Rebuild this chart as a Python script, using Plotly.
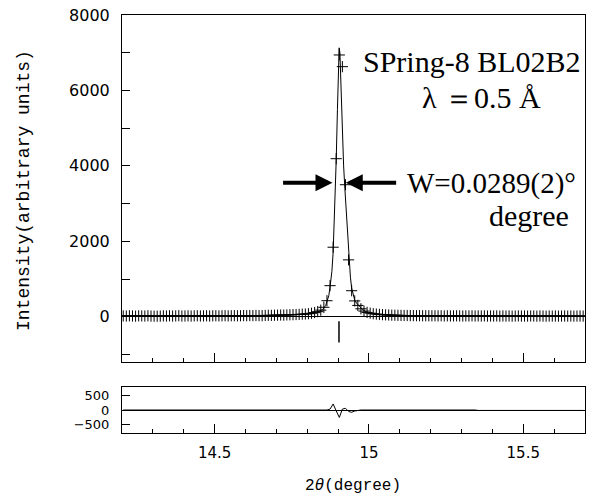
import plotly.graph_objects as go

# ---------------- data ----------------
obs_tth = [
    14.204, 14.214, 14.224, 14.234, 14.244, 14.254, 14.264, 14.274, 14.284, 14.294,
    14.304, 14.314, 14.324, 14.334, 14.344, 14.354, 14.364, 14.374, 14.384, 14.394,
    14.404, 14.414, 14.424, 14.434, 14.444, 14.454, 14.464, 14.474, 14.484, 14.494,
    14.504, 14.514, 14.524, 14.534, 14.544, 14.554, 14.564, 14.574, 14.584, 14.594,
    14.604, 14.614, 14.624, 14.634, 14.644, 14.654, 14.664, 14.674, 14.684, 14.694,
    14.704, 14.714, 14.724, 14.734, 14.744, 14.754, 14.764, 14.774, 14.784, 14.794,
    14.804, 14.814, 14.824, 14.834, 14.844, 14.854, 14.864, 14.874, 14.884, 14.894,
    14.904, 14.914, 14.924, 14.934, 14.944, 14.954, 14.964, 14.974, 14.984, 14.994,
    15.004, 15.014, 15.024, 15.034, 15.044, 15.054, 15.064, 15.074, 15.084, 15.094,
    15.104, 15.114, 15.124, 15.134, 15.144, 15.154, 15.164, 15.174, 15.184, 15.194,
    15.204, 15.214, 15.224, 15.234, 15.244, 15.254, 15.264, 15.274, 15.284, 15.294,
    15.304, 15.314, 15.324, 15.334, 15.344, 15.354, 15.364, 15.374, 15.384, 15.394,
    15.404, 15.414, 15.424, 15.434, 15.444, 15.454, 15.464, 15.474, 15.484, 15.494,
    15.504, 15.514, 15.524, 15.534, 15.544, 15.554, 15.564, 15.574, 15.584, 15.594,
    15.604, 15.614, 15.624, 15.634, 15.644, 15.654, 15.664, 15.674, 15.684, 15.694,
]
obs_int = [
    22, 18, 25, 20, 16, 24, 21, 19, 26, 17,
    15, 14, 16, 23, 20, 25, 18, 22, 27, 19,
    21, 24, 18, 23, 26, 20, 22, 25, 19, 24,
    27, 22, 25, 28, 23, 26, 29, 24, 27, 30,
    28, 31, 29, 33, 30, 28, 34, 38, 36, 40,
    42, 45, 43, 48, 52, 55, 58, 62, 68, 72,
    80, 92, 110, 135, 175, 250, 425, 824, 1843, 4190,
    6940, 6630, 3500, 1508, 690, 420, 300, 210, 150, 115,
    95, 80, 70, 62, 55, 50, 46, 42, 40, 37,
    35, 33, 32, 30, 29, 28, 27, 26, 27, 25,
    24, 26, 23, 25, 22, 24, 21, 23, 25, 22,
    20, 23, 21, 24, 19, 22, 20, 23, 18, 21,
    19, 22, 17, 20, 18, 21, 16, 19, 22, 18,
    20, 17, 21, 19, 16, 20, 18, 15, 19, 17,
    20, 16, 18, 21, 17, 19, 16, 18, 20, 17,
]
diff_int = [
    0, 0, 0, 0, 0, 0, 0, 0, 0, 0,
    0, -25, -25, -25, 0, 0, 0, 0, 0, 0,
    0, 0, 0, 0, 0, 0, 0, 0, 0, 0,
    0, 0, 0, 0, 0, 0, 0, 0, 0, 0,
    0, 0, 0, 0, 0, -15, -15, -20, -15, 0,
    0, 0, 0, -20, -20, -15, -20, 0, -15, -20,
    -20, -25, -20, -20, -15, -20, 0, 30, 210, -30,
    -258, 30, 60, -50, -80, -35, -5, 0, 0, 0,
    20, 25, 25, 20, 25, 20, 25, 0, 0, 0,
    0, 0, 0, 0, 0, 0, 0, 0, 0, 0,
    0, 0, 0, 0, 0, 0, 0, 0, 0, 0,
    0, 0, 0, 0, 0, -15, -15, -20, -15, -15,
    -20, -15, -15, -20, 0, -15, -20, -15, -15, -20,
    -15, -15, -20, -15, -15, -20, -15, -15, -20, -15,
    -15, -20, -15, -15, -20, -15, -15, -20, -15, -15,
]
calc_tth = [
    14.200, 14.500, 14.650, 14.750, 14.800, 14.830, 14.850, 14.860, 14.864, 14.870,
    14.874, 14.880, 14.884, 14.888, 14.894, 14.898, 14.901, 14.9035, 14.906, 14.910,
    14.914, 14.918, 14.922, 14.926, 14.930, 14.934, 14.940, 14.944, 14.950, 14.954,
    14.960, 14.970, 14.980, 14.990, 15.000, 15.030, 15.070, 15.150, 15.300, 15.700,
]
calc_int = [
    20, 22, 30, 50, 75, 115, 190, 300, 400, 560,
    790, 1200, 1700, 2500, 4150, 5500, 6500, 7130, 7000, 5900,
    4800, 4000, 3400, 2900, 2300, 1700, 1050, 760, 560, 440,
    360, 260, 185, 135, 105, 62, 42, 28, 22, 18,
]
bragg_pos = [14.903]

x_range = [14.2, 15.7]
y_range_top = [-1200, 8000]
y_range_bot = [-800, 800]
top_ticks = [0, 2000, 4000, 6000, 8000]
bot_ticks = [-500, 0, 500]
bot_ticklabels = ["\u2212500", "0", "500"]
x_ticks = [14.5, 15, 15.5]
x_ticklabels = ["14.5", "15", "15.5"]

# ---------------- layout geometry ----------------
W, H = 590, 495
ML, MR, MT, MB = 122, 5, 15, 62
PW, PH = W - ML - MR, H - MT - MB


def pxx(px):
    return (px - ML) / PW


def pxy(py):
    return (H - MB - py) / PH


BLACK = "black"
fig = go.Figure()

fig.add_trace(go.Scatter(x=calc_tth, y=calc_int, mode="lines",
                         line=dict(color=BLACK, width=1), xaxis="x", yaxis="y",
                         showlegend=False, hoverinfo="skip"))
fig.add_trace(go.Scatter(x=obs_tth, y=obs_int, mode="markers",
                         marker=dict(symbol="cross-thin", size=8,
                                     line=dict(color=BLACK, width=1), color=BLACK),
                         xaxis="x", yaxis="y", showlegend=False))
bx, by = [], []
for p in bragg_pos:
    bx += [p, p, None]
    by += [-120, -680, None]
fig.add_trace(go.Scatter(x=bx, y=by, mode="lines", line=dict(color=BLACK, width=1.5),
                         xaxis="x", yaxis="y", showlegend=False))
fig.add_trace(go.Scatter(x=obs_tth, y=diff_int, mode="lines",
                         line=dict(color=BLACK, width=1), xaxis="x2", yaxis="y2",
                         showlegend=False))

tickfont_top = dict(family="DejaVu Sans", size=16, color=BLACK)
tickfont_bot = dict(family="DejaVu Sans", size=13, color=BLACK)

common_x = dict(range=x_range, showgrid=False, zeroline=False, showline=True,
                mirror=True, linecolor=BLACK, linewidth=1, ticks="inside",
                tickvals=x_ticks, ticklen=9, tickcolor=BLACK, tickwidth=1,
                automargin=False,
                minor=dict(dtick=0.1, tick0=14.2, ticks="inside", ticklen=4,
                           tickcolor=BLACK, tickwidth=1))

fig.update_layout(
    width=W, height=H,
    margin=dict(l=ML, r=MR, t=MT, b=MB, autoexpand=False),
    paper_bgcolor="white", plot_bgcolor="white",
    xaxis=dict(**common_x, domain=[0, 1], anchor="y", showticklabels=False),
    yaxis=dict(range=y_range_top, domain=[pxy(362), 1], anchor="x",
               showgrid=False, zeroline=True, zerolinecolor=BLACK, zerolinewidth=1,
               showline=True, mirror=True, linecolor=BLACK, linewidth=1,
               ticks="inside", tickvals=top_ticks, ticklen=8, tickcolor=BLACK,
               minor=dict(dtick=1000, ticks="inside", ticklen=8, tickcolor=BLACK),
               tickfont=tickfont_top, ticklabelstandoff=8, automargin=False),
    xaxis2=dict(**common_x, domain=[0, 1], anchor="y2", ticktext=x_ticklabels,
                tickfont=dict(family="DejaVu Sans", size=15, color=BLACK),
                ticklabelstandoff=6),
    yaxis2=dict(range=y_range_bot, domain=[0, pxy(387)], anchor="x2",
                showgrid=False, zeroline=True, zerolinecolor=BLACK, zerolinewidth=1,
                showline=True, mirror=True, linecolor=BLACK, linewidth=1,
                ticks="inside", tickvals=bot_ticks, ticktext=bot_ticklabels,
                ticklen=8, tickcolor=BLACK, tickfont=tickfont_bot,
                ticklabelstandoff=9, automargin=False),
)

ann = []
serif = "Liberation Serif"
mono = "Liberation Mono"
ann.append(dict(text="Intensity(arbitrary units)", xref="paper", yref="paper",
                x=pxx(24), y=pxy(191), textangle=-90, showarrow=False,
                font=dict(family=mono, size=18, color=BLACK),
                xanchor="center", yanchor="middle"))
ann.append(dict(text="2<i>\u03b8</i>(degree)", xref="paper", yref="paper",
                x=pxx(353), y=pxy(486), showarrow=False,
                font=dict(family=mono, size=16, color=BLACK),
                xanchor="center", yanchor="middle"))
ann.append(dict(text="SPring-8 BL02B2", xref="paper", yref="paper",
                x=pxx(583), y=pxy(61), showarrow=False,
                font=dict(family=serif, size=30, color=BLACK),
                xanchor="right", yanchor="middle"))
ann.append(dict(text="\u03bb \uff1d0.5 \u00c5", xref="paper", yref="paper",
                x=pxx(481), y=pxy(97), showarrow=False,
                font=dict(family=serif, size=30, color=BLACK),
                xanchor="center", yanchor="middle"))
ann.append(dict(text="W=0.0289(2)\u00b0", xref="paper", yref="paper",
                x=pxx(578), y=pxy(184), showarrow=False,
                font=dict(family=serif, size=29, color=BLACK),
                xanchor="right", yanchor="middle"))
ann.append(dict(text="degree", xref="paper", yref="paper",
                x=pxx(529), y=pxy(215), showarrow=False,
                font=dict(family=serif, size=30, color=BLACK),
                xanchor="center", yanchor="middle"))
# FWHM arrows
half = 3550
ann.append(dict(text="", x=14.882, y=half, ax=14.717, ay=half, xref="x", yref="y",
                axref="x", ayref="y", showarrow=True, arrowhead=2, arrowsize=0.85,
                arrowwidth=4, arrowcolor=BLACK, standoff=0))
ann.append(dict(text="", x=14.925, y=half, ax=15.093, ay=half, xref="x", yref="y",
                axref="x", ayref="y", showarrow=True, arrowhead=2, arrowsize=0.85,
                arrowwidth=4, arrowcolor=BLACK, standoff=0))
fig.update_layout(annotations=ann)

fig.write_html("out.html", config={"displayModeBar": False},
               post_script="document.body.style.margin='0';document.body.style.padding='0';")
